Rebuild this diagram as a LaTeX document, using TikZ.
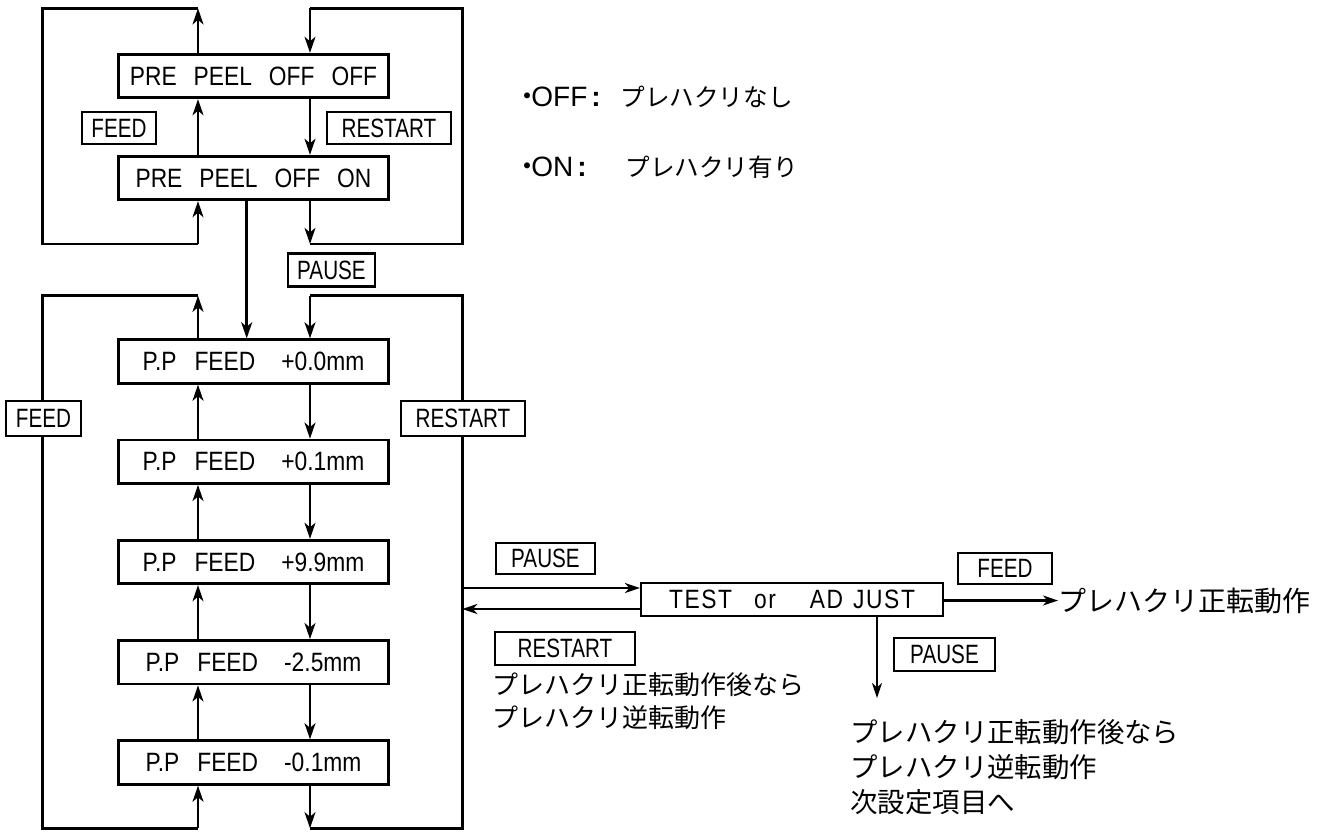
\documentclass[tikz,border=0pt]{standalone}
\usepackage{fontspec}
\setmainfont{Liberation Sans}
\newfontfamily\lcd[FakeStretch=0.86]{Liberation Sans}
\newfontfamily\keyfont[FakeStretch=0.78]{Liberation Sans}
\newfontfamily\jp{Noto Sans CJK JP}
\usetikzlibrary{arrows.meta}

\newcommand{\ppfeed}[1]{P.P\hspace{9pt}FEED\hspace{13pt}#1mm}

\tikzset{
  disp/.style={draw, line width=1.4pt, minimum width=135pt, minimum height=21.7pt, inner sep=0pt,
    font=\lcd\fontsize{13.25pt}{15pt}\selectfont},
  key/.style={draw, fill=white, line width=1.15pt, inner sep=0pt,
    font=\keyfont\fontsize{13.25pt}{15pt}\selectfont},
  flow/.style={line width=1.4pt, -{Stealth[length=8pt,width=5.4pt,inset=2.2pt]}},
  wire/.style={line width=1.4pt},
  thin flow/.style={line width=1.1pt, -{Stealth[length=7.5pt,width=5pt,inset=2.2pt]}},
  note/.style={anchor=west, inner sep=0pt, align=left},
}

\begin{document}
\begin{tikzpicture}[x=0.5pt, y=-0.5pt]
\useasboundingbox (0,0) rectangle (1332,831);

    % Displays (pre peel on/off)
    \node[disp] (off) at (253.5,76) {PRE\hspace{8.5pt}PEEL\hspace{8.5pt}OFF\hspace{8.5pt}OFF};
    \node[disp] (on) at (253.5,178) {PRE\hspace{8.5pt}PEEL\hspace{8.5pt}OFF\hspace{8.5pt}ON};

    % Displays (feed amount)
    \node[disp] (p0) at (253.5,361.5) {\ppfeed{+0.0}};
    \node[disp] (p1) at (253.5,461.75) {\ppfeed{+0.1}};
    \node[disp] (p2) at (253.5,562) {\ppfeed{+9.9}};
    \node[disp] (p3) at (253.5,662.25) {\ppfeed{-2.5}};
    \node[disp] (p4) at (253.5,762.5) {\ppfeed{-0.1}};

    \node[disp, line width=1.1pt, minimum width=151pt, minimum height=16.5pt] (tst) at (792,599.5)
        {\addfontfeature{LetterSpace=6}TEST\hspace{11pt}or\hspace{17pt}AD\hspace{5pt}JUST};

    % Loop corners
    \coordinate (uA) at (198,8.3);
    \coordinate (dA) at (310,8.3);
    \coordinate (uB) at (198,244);
    \coordinate (dB) at (310,244);
    \coordinate (bl) at (42.7,244);
    \coordinate (tr) at (462.3,8.3);

    \coordinate (uC) at (198,295.7);
    \coordinate (dC) at (310,295.7);
    \coordinate (uD) at (198,828.3);
    \coordinate (dD) at (310,828.3);
    \coordinate (bl2) at (42.7,828.3);
    \coordinate (tr2) at (462.3,295.7);

    % Edges: upper loop
    \draw[flow] (off.north -| uA) -- (uA);
    \draw[wire] (uA) -| (bl) -- (uB);
    \draw[flow] (uB) -- (on.south -| uB);
    \draw[flow] (on.north -| uA) -- (off.south -| uA);
    \draw[flow] (off.south -| dA) -- (on.north -| dA);
    \draw[flow] (on.south -| dB) -- (dB);
    \draw[wire] (dB) -| (tr) -- (dA);
    \draw[flow] (dA) -- (off.north -| dA);

    % on -> feed amount
    \draw[flow] ([xshift=-3.4pt]on.south) -- ([xshift=-3.4pt]p0.north);

    % Edges: lower loop, FEED side
    \draw[flow] (p0.north -| uC) -- (uC);
    \draw[wire] (uC) -| (bl2) -- (uD);
    \draw[flow] (uD) -- (p4.south -| uD);
    \draw[flow] (p4.north -| uC) -- (p3.south -| uC);
    \draw[flow] (p3.north -| uC) -- (p2.south -| uC);
    \draw[flow] (p2.north -| uC) -- (p1.south -| uC);
    \draw[flow] (p1.north -| uC) -- (p0.south -| uC);

    % Edges: lower loop, RESTART side
    \draw[flow] (p0.south -| dC) -- (p1.north -| dC);
    \draw[flow] (p1.south -| dC) -- (p2.north -| dC);
    \draw[flow] (p2.south -| dC) -- (p3.north -| dC);
    \draw[flow] (p3.south -| dC) -- (p4.north -| dC);
    \draw[flow] (p4.south -| dD) -- (dD);
    \draw[wire] (dD) -| (tr2) -- (dC);
    \draw[flow] (dC) -- (p0.north -| dC);

    % Test / adjust
    \coordinate (inR) at (462.3,588);
    \coordinate (outR) at (462.3,609);
    \coordinate (pz) at (877,698);
    \draw[thin flow] (inR) -- (inR -| tst.west);
    \draw[thin flow] (outR -| tst.west) -- (outR);
    \draw[thin flow] (tst.south -| pz) -- (pz);

    \node[note, font=\jp\fontsize{14pt}{17pt}\selectfont] (fwd) at (1058,600.5) {プレハクリ正転動作};
    \draw[thin flow] (tst.east |- fwd.west) -- (fwd.west);

    % Keys
    \node[key, minimum width=37pt, minimum height=16pt] (fdA) at (119,128) {FEED};
    \node[key, minimum width=62pt, minimum height=16pt] (rsA) at (389,128) {RESTART};
    \node[key, minimum width=43.5pt, minimum height=16.5pt] (psA) at (331.5,270) {PAUSE};
    \node[key, minimum width=37.5pt, minimum height=17.5pt] (fdB) at (43.5,418.5) {FEED};
    \node[key, minimum width=62pt, minimum height=17.5pt] (rsB) at (463,418.5) {RESTART};
    \node[key, line width=1.05pt, minimum width=49.5pt, minimum height=15.5pt] (psB) at (545.5,558.5) {PAUSE};
    \node[key, line width=1.05pt, minimum width=70pt, minimum height=16.5pt] (rsC) at (565,648.5) {RESTART};
    \node[key, line width=1.05pt, minimum width=47pt, minimum height=15.5pt] (fdC) at (1005,568.5) {FEED};
    \node[key, line width=1.05pt, minimum width=50.5pt, minimum height=16.5pt] (psC) at (944.5,654.5) {PAUSE};

    % Notes
    \node[note, font=\jp\fontsize{13pt}{16.5pt}\selectfont] (rsTxt) at (492,701.5)
        {プレハクリ正転動作後なら\\プレハクリ逆転動作};
    \node[note, font=\jp\fontsize{13.7pt}{17.5pt}\selectfont] (psTxt) at (850,767)
        {プレハクリ正転動作後なら\\プレハクリ逆転動作\\次設定項目へ};

    \node[note, font=\fontsize{14pt}{16pt}\selectfont] (offTxt) at (523,97)
        {\makebox[48.5pt][l]{\makebox[4pt][c]{\jp ・}OFF\hspace{2pt}\textbf{:}}{\jp\fontsize{12.3pt}{14pt}\selectfont プレハクリなし}};
    \node[note, font=\fontsize{14pt}{16pt}\selectfont] (onTxt) at (523,167)
        {\makebox[51pt][l]{\makebox[4pt][c]{\jp ・}ON\hspace{2pt}\textbf{:}}{\jp\fontsize{12.3pt}{14pt}\selectfont プレハクリ有り}};

\end{tikzpicture}
\end{document}
